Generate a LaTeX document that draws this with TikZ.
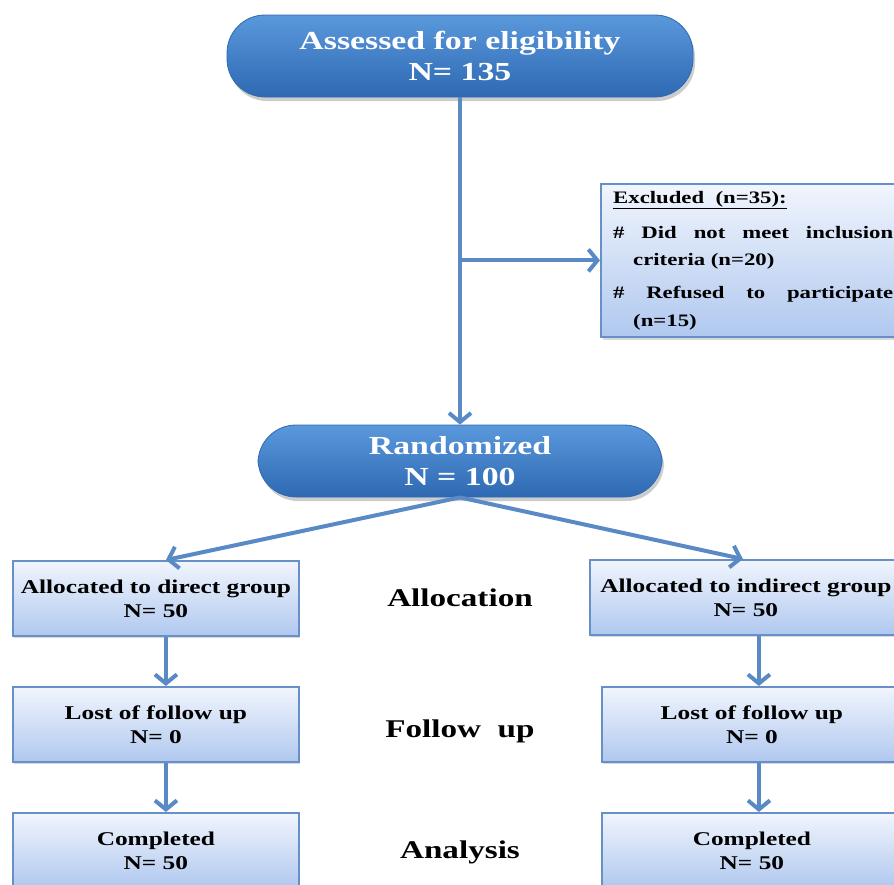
\documentclass[tikz,border=0pt]{standalone}
\usepackage{fontspec}
\setmainfont{Liberation Serif}
\newfontfamily\tnr[FakeStretch=1.3]{Liberation Serif}
\usetikzlibrary{arrows.meta,shadows}
\definecolor{pillA}{HTML}{5A98DC}
\definecolor{pillB}{HTML}{2E69B2}
\definecolor{boxA}{HTML}{F1F5FD}
\definecolor{boxB}{HTML}{B0C8EF}
\definecolor{edgec}{HTML}{6890C8}
\definecolor{arrc}{HTML}{5A8AC6}
\begin{document}
\begin{tikzpicture}[x=1pt,y=-1pt,
  pill/.style={rectangle, rounded corners=38pt, top color=pillA, bottom color=pillB,
    draw=pillB, line width=0.8pt, text=white, align=center,
    font=\tnr\bfseries\fontsize{26}{31}\selectfont,
    drop shadow={opacity=0.4, shadow xshift=2pt, shadow yshift=-4pt}},
  gbox/.style={rectangle, top color=boxA, bottom color=boxB, draw=edgec,
    line width=1.8pt, align=center, minimum height=75pt, inner sep=0pt,
    font=\tnr\bfseries\fontsize{19.5}{24}\selectfont,
    drop shadow={opacity=0.3, shadow xshift=1pt, shadow yshift=-2pt}},
  ebox/.style={rectangle, top color=boxA, bottom color=boxB, draw=edgec,
    line width=1.8pt, inner sep=0pt,
    drop shadow={opacity=0.3, shadow xshift=2pt, shadow yshift=-3pt}},
  etext/.style={inner sep=0pt, font=\tnr\bfseries\fontsize{17.5}{22}\selectfont},
  stage/.style={inner sep=0pt, font=\tnr\bfseries\fontsize{25.5}{30}\selectfont},
  arr/.style={draw=arrc, line width=4pt, -{Straight Barb[length=9pt,width=22pt]}}
]
\useasboundingbox (0,0) rectangle (894,884);
\clip (0,0) rectangle (894,884);

% pills
\node[pill, minimum width=466pt, minimum height=82pt] (top) at (460,56)
  {Assessed for eligibility\\N= 135};
\node[pill, minimum width=404pt, minimum height=72pt] (rand) at (460,461)
  {Randomized\\N = 100};

% excluded box
\node[ebox, anchor=north west, minimum width=320pt, minimum height=153pt] (exc) at (600,183) {};
\node[etext, anchor=base west] (e1) at (613,203) {\underline{Excluded\ \ (n=35):}};
\node[etext, anchor=base west] (e2) at (613,238) {\makebox[280pt][s]{\# Did not meet inclusion}};
\node[etext, anchor=base west] (e3) at (633,265) {criteria (n=20)};
\node[etext, anchor=base west] (e4) at (613,298) {\makebox[280pt][s]{\# Refused to participate}};
\node[etext, anchor=base west] (e5) at (633,326) {(n=15)};

% left column
\node[gbox, anchor=north west, minimum width=286pt] (a1) at (12,560)
  {Allocated to direct group\\N= 50};
\node[gbox, anchor=north west, minimum width=286pt] (l1) at (12,686)
  {Lost of follow up\\N= 0};
\node[gbox, anchor=north west, minimum width=286pt] (c1) at (12,812)
  {Completed\\N= 50};

% right column
\node[gbox, anchor=north west, minimum width=312pt] (a2) at (589,559)
  {Allocated to indirect group\\N= 50};
\node[gbox, anchor=north west, minimum width=300pt] (l2) at (601,686)
  {Lost of follow up\\N= 0};
\node[gbox, anchor=north west, minimum width=300pt] (c2) at (601,812)
  {Completed\\N= 50};

% stage labels
\node[stage, anchor=base] (s1) at (460,606) {Allocation};
\node[stage, anchor=base] (s2) at (460,737) {Follow\ \ up};
\node[stage, anchor=base] (s3) at (460,858) {Analysis};

% connectors
\draw[arr] (top.south) -- (rand.north);
\coordinate (br) at (top.south |- exc.west);
\draw[arr] (br) -- (exc.west);
\draw[arr] (rand.south) -- ([xshift=10pt]a1.north);
\draw[arr] (rand.south) -- ([xshift=-3pt]a2.north);
\draw[arr] ([xshift=10pt]a1.south) -- ([xshift=10pt]l1.north);
\draw[arr] ([xshift=10pt]l1.south) -- ([xshift=10pt]c1.north);
\draw[arr] ([xshift=13pt]a2.south) -- ([xshift=13pt]a2.south |- l2.north);
\draw[arr] ([xshift=13pt]a2.south |- l2.south) -- ([xshift=13pt]a2.south |- c2.north);
\end{tikzpicture}
\end{document}
